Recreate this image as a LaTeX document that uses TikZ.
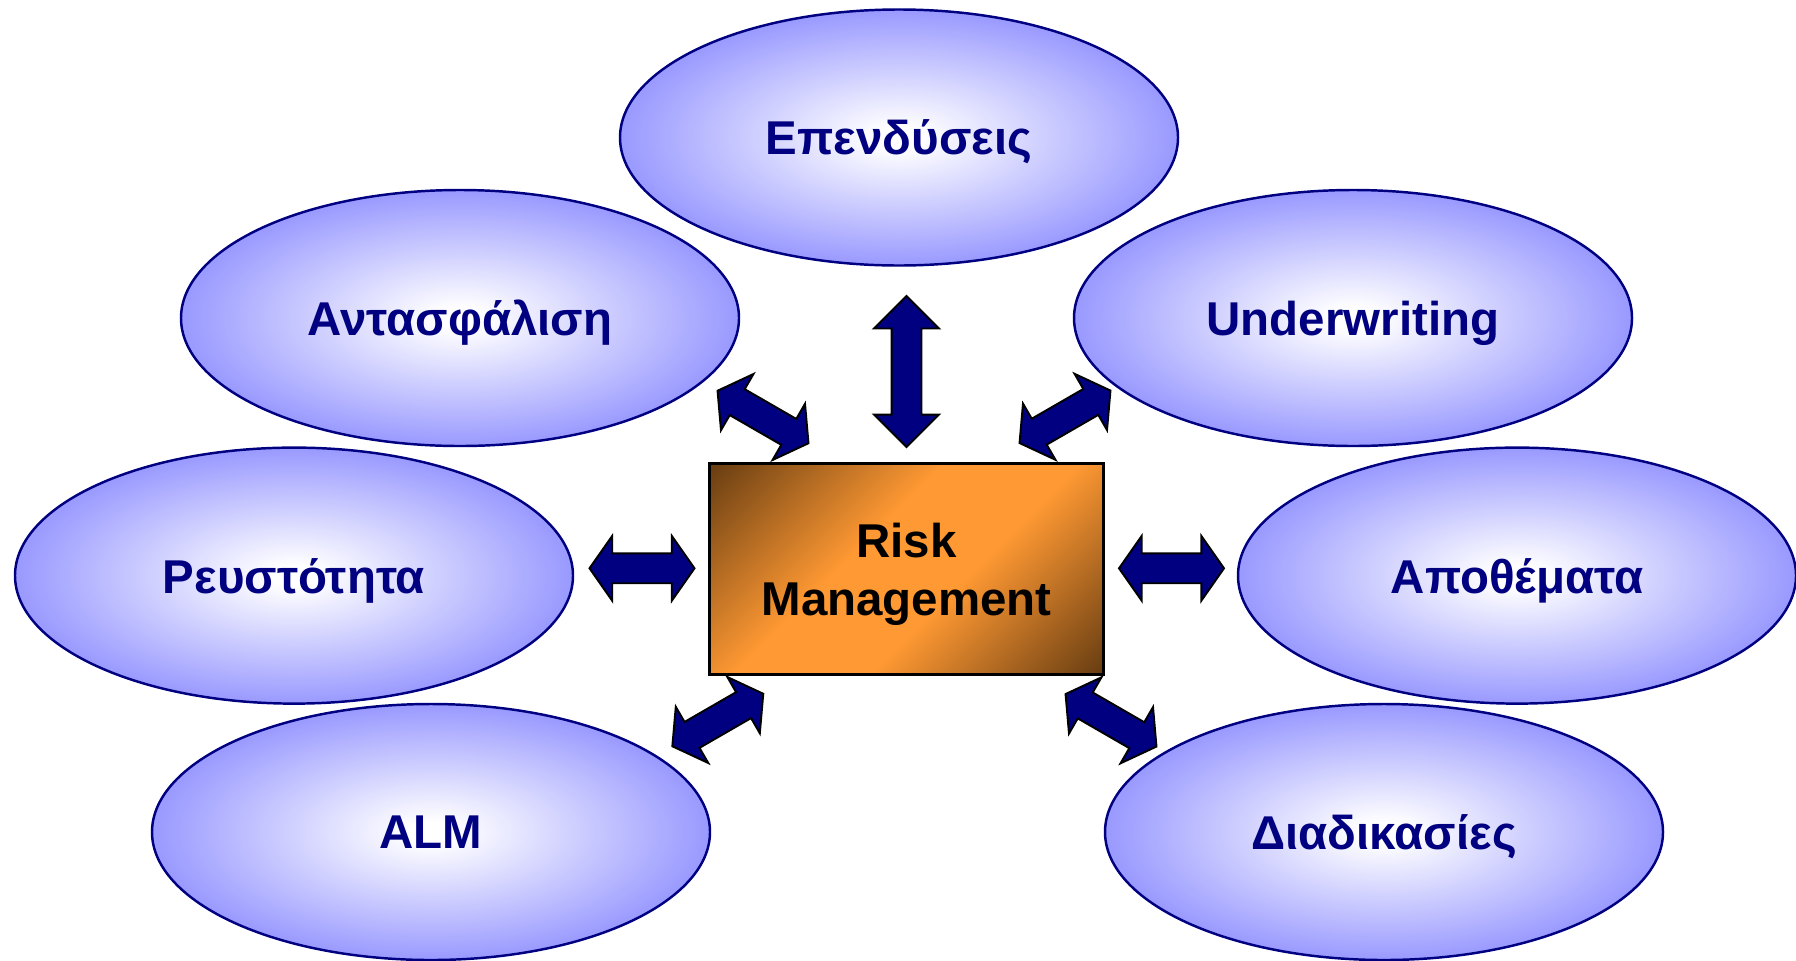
\documentclass[tikz,border=0pt]{standalone}
\usepackage{fontspec}
\setmainfont{Liberation Sans}
\usetikzlibrary{shapes.geometric,shapes.arrows}
\definecolor{navyblue}{RGB}{0,0,128}
\definecolor{lavender}{RGB}{153,153,255}
\definecolor{riskorange}{RGB}{255,153,51}
\definecolor{riskbrown}{RGB}{105,62,18}
\pgfdeclareradialshading{topicshade}{\pgfpoint{0bp}{0bp}}{color(0bp)=(white); color(2bp)=(white); color(25bp)=(lavender); color(50bp)=(lavender)}
\pgfdeclarehorizontalshading{coreshade}{100bp}{color(0bp)=(riskbrown); color(15bp)=(riskbrown); color(42bp)=(riskorange); color(58bp)=(riskorange); color(85bp)=(riskbrown); color(100bp)=(riskbrown)}
\begin{document}
\begin{tikzpicture}[
    topic/.style={ellipse, draw=navyblue, line width=0.7pt, shade, shading=topicshade,
      minimum width=5.58cm, minimum height=2.56cm, inner sep=0pt, text=navyblue,
      text depth=0pt, font=\fontsize{13.5}{16.6}\selectfont\bfseries},
    core/.style={rectangle, draw=black, line width=0.95pt, shade, shading=coreshade,
      shading angle=-45, minimum width=3.94cm, minimum height=2.11cm, align=center,
      text depth=0pt, font=\fontsize{13.5}{16.6}\selectfont\bfseries},
    link/.style={double arrow, draw=black, fill=navyblue, line width=0.55pt,
      inner xsep=0pt, inner ysep=0.14cm, double arrow head extend=0.175cm,
      double arrow tip angle=110, minimum height=1.05cm}]
  \useasboundingbox (0,0) rectangle (17.96,9.60);
  \node[topic] (inv)  at (8.99,8.225) {Επενδύσεις};
  \node[topic] (rein) at (4.60,6.42)  {Αντασφάλιση};
  \node[topic] (uw)   at (13.53,6.42) {Underwriting};
  \node[topic] (liq)  at (2.94,3.844) {Ρευστότητα};
  \node[topic] (res)  at (15.17,3.844) {Αποθέματα};
  \node[topic] (alm)  at (4.31,1.28)  {ALM};
  \node[topic] (proc) at (13.84,1.28) {Διαδικασίες};
  \node[core]  (rm)   at (9.065,3.91) {Risk\\Management};
  \node[link, rotate=90, minimum height=1.51cm, double arrow tip angle=90] (a-inv) at (9.065,5.885) {};
  \node[link, rotate=-30] (a-rein) at (7.63,5.43)  {};
  \node[link, rotate=30]  (a-uw)   at (10.65,5.432) {};
  \node[link]             (a-liq)  at (6.42,3.917)  {};
  \node[link]             (a-res)  at (11.715,3.917) {};
  \node[link, rotate=30]  (a-alm)  at (7.178,2.40)  {};
  \node[link, rotate=-30] (a-proc) at (11.11,2.397) {};
\end{tikzpicture}
\end{document}
